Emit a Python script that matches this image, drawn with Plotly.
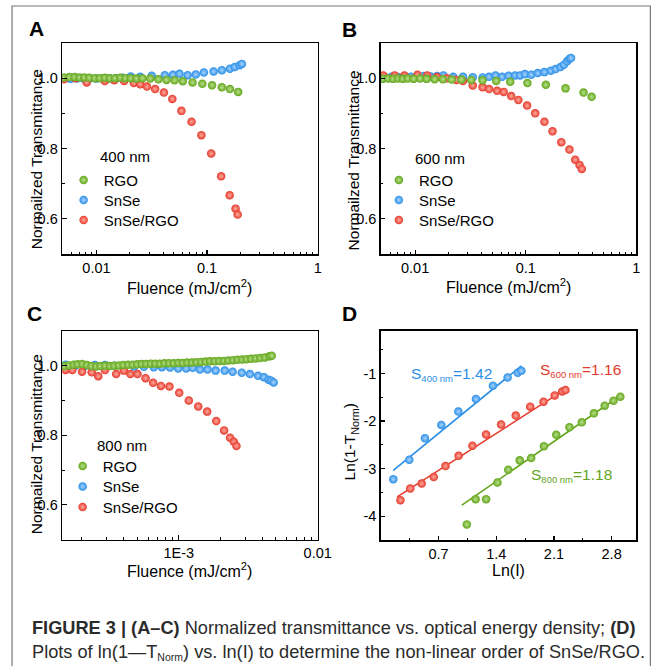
import plotly.graph_objects as go

W, H = 667, 666
FONT = "Arial, Liberation Sans, Helvetica, sans-serif"

GREEN = "#62a51c"
BLUE = "#2a8ee6"
RED = "#e4392b"
GREEN_HI = "#b9e08a"
BLUE_HI = "#a9d4ff"
RED_HI = "#ffab9f"

# ---------------- Panel A : 400 nm ----------------
a_rgo_x = [0.00508, 0.0057, 0.00635, 0.00703, 0.00778, 0.00863, 0.00968, 0.0107, 0.0119, 0.0132,
           0.0147, 0.0164, 0.0183, 0.0204, 0.023, 0.026, 0.0306, 0.0363, 0.043, 0.0508,
           0.0603, 0.0739, 0.0906, 0.111, 0.136, 0.161, 0.191]
a_rgo_y = [1.002, 1.003, 1.003, 1.002, 1.002, 1.001, 1.0, 1.0, 1.001, 1.0,
           1.0, 1.001, 1.0, 1.0, 0.999, 1.0, 0.999, 0.997, 0.995, 0.994,
           0.991, 0.988, 0.984, 0.98, 0.974, 0.969, 0.961]
a_snse_x = [0.00508, 0.00582, 0.00667, 0.00764, 0.00875, 0.01, 0.0115, 0.0131, 0.015, 0.0172,
            0.0204, 0.0249, 0.0316, 0.0415, 0.0492, 0.0563, 0.0667, 0.079, 0.0935, 0.1146,
            0.136, 0.161, 0.178, 0.197, 0.2065]
a_snse_y = [0.999, 0.998, 0.999, 0.999, 1.0, 0.999, 0.999, 1.0, 1.0, 1.001,
            1.0047, 1.0038, 1.0066, 1.0085, 1.0094, 1.0123, 1.0085, 1.0104, 1.016, 1.019,
            1.0226, 1.027, 1.032, 1.037, 1.0405]
a_comp_x = [0.00508, 0.00644, 0.00816, 0.0119, 0.0145, 0.0178, 0.0218, 0.0249, 0.0286, 0.0339,
            0.0407, 0.0485, 0.0586, 0.0724, 0.0888, 0.109, 0.134, 0.16, 0.181, 0.189]
a_comp_y = [0.997, 1.0, 0.988, 0.992, 0.994, 0.992, 0.986, 0.983, 0.976, 0.969,
            0.959, 0.941, 0.907, 0.876, 0.838, 0.786, 0.721, 0.667, 0.629, 0.612]

# ---------------- Panel B : 600 nm ----------------
b_rgo_x = [0.00508, 0.0057, 0.00632, 0.007, 0.00775, 0.00857, 0.00968, 0.0111, 0.0127, 0.015,
           0.0178, 0.0214, 0.0262, 0.0321, 0.0407, 0.0541, 0.0724, 0.1035, 0.152, 0.229,
           0.333, 0.394]
b_rgo_y = [0.998, 0.999, 0.998, 0.999, 0.998, 0.999, 0.998, 0.999, 0.998, 0.997,
           0.997, 0.996, 0.996, 0.995, 0.994, 0.992, 0.99, 0.986, 0.981, 0.971,
           0.959, 0.947]
b_snse_x = [0.00532, 0.00611, 0.007, 0.008, 0.00916, 0.0105, 0.012, 0.0138, 0.0158, 0.018,
            0.0221, 0.0271, 0.0332, 0.0407, 0.0466, 0.0533, 0.0611, 0.07, 0.0802, 0.0888,
            0.0982, 0.1123, 0.1285, 0.1475, 0.1687, 0.1866, 0.2065, 0.2213, 0.2366, 0.2478,
            0.2568]
b_snse_y = [1.003, 1.004, 1.003, 1.005, 1.004, 1.005, 1.006, 1.005, 1.006, 1.0077,
            1.0038, 1.0038, 1.0029, 1.0019, 1.0038, 1.0077, 1.0038, 1.0067, 1.0077, 1.0077,
            1.0115, 1.0096, 1.0144, 1.0172, 1.0211, 1.0258, 1.0316, 1.0383, 1.0478, 1.0545,
            1.0574]
b_comp_x = [0.00515, 0.00653, 0.008, 0.0105, 0.01285, 0.01577, 0.01932, 0.02367, 0.02704, 0.0332,
            0.0407, 0.0466, 0.0551, 0.0632, 0.0739, 0.0858, 0.1028, 0.1218, 0.1475, 0.1746,
            0.2096, 0.2483, 0.2801, 0.3062, 0.3212]
b_comp_y = [1.0077, 1.0077, 1.0077, 1.0096, 1.0077, 1.003, 1.0, 0.995, 0.992, 0.979,
            0.974, 0.969, 0.964, 0.961, 0.949, 0.938, 0.922, 0.9, 0.876, 0.849,
            0.818, 0.797, 0.768, 0.753, 0.742]

# ---------------- Panel C : 800 nm ----------------
c_rgo_x = [1.50e-4, 1.62e-4, 1.75e-4, 1.87e-4, 2.02e-4, 2.18e-4, 2.35e-4, 2.54e-4, 2.73e-4, 2.95e-4,
           3.19e-4, 3.43e-4, 3.70e-4, 3.99e-4, 4.31e-4, 4.65e-4, 5.01e-4, 5.40e-4, 5.82e-4, 6.29e-4,
           6.78e-4, 7.31e-4, 7.89e-4, 8.51e-4, 9.18e-4, 9.90e-4, 1.067e-3, 1.151e-3, 1.242e-3, 1.340e-3,
           1.446e-3, 1.559e-3, 1.680e-3, 1.812e-3, 1.956e-3, 2.110e-3, 2.275e-3, 2.455e-3, 2.648e-3, 2.856e-3,
           3.081e-3, 3.322e-3, 3.583e-3, 3.865e-3, 4.169e-3, 4.498e-3, 4.67e-3]
c_rgo_y = [0.999, 1.001, 1.003, 1.004, 1.005, 1.002, 0.999, 0.998, 0.999, 1.0,
           0.999, 1.0, 1.001, 1.002, 1.003, 1.003, 1.004, 1.005, 1.005, 1.006,
           1.006, 1.006, 1.007, 1.007, 1.007, 1.008, 1.008, 1.009, 1.009, 1.01,
           1.011, 1.012, 1.013, 1.013, 1.014, 1.014, 1.015, 1.016, 1.017, 1.018,
           1.019, 1.02, 1.021, 1.022, 1.024, 1.027, 1.029]
c_snse_x = [1.53e-4, 1.80e-4, 2.12e-4, 2.49e-4, 2.94e-4, 3.45e-4, 4.06e-4, 4.77e-4, 5.61e-4, 6.60e-4,
            7.55e-4, 8.64e-4, 9.9e-4, 1.13e-3, 1.26e-3, 1.42e-3, 1.61e-3, 1.84e-3, 2.14e-3, 2.44e-3,
            2.84e-3, 3.25e-3, 3.72e-3, 4.10e-3, 4.43e-3, 4.62e-3, 4.82e-3]
c_snse_y = [1.003, 1.0, 1.0, 1.002, 1.002, 1.0, 1.0, 0.998, 0.997, 0.996,
            0.996, 0.995, 0.992, 0.992, 0.994, 0.989, 0.989, 0.986, 0.986, 0.983,
            0.98, 0.976, 0.971, 0.967, 0.96, 0.957, 0.952]
c_comp_x = [1.53e-4, 1.71e-4, 2.01e-4, 2.36e-4, 2.63e-4, 2.94e-4, 3.54e-4, 4.02e-4, 4.48e-4, 5.04e-4,
            5.76e-4, 6.53e-4, 7.43e-4, 8.56e-4, 1.007e-3, 1.18e-3, 1.38e-3, 1.60e-3, 1.86e-3, 2.12e-3,
            2.34e-3, 2.49e-3, 2.60e-3]
c_comp_y = [0.988, 0.988, 0.983, 0.981, 0.97, 0.988, 0.976, 0.986, 0.976, 0.976,
            0.964, 0.951, 0.942, 0.94, 0.922, 0.9, 0.883, 0.868, 0.841, 0.814,
            0.793, 0.781, 0.769]

# ---------------- Panel D : ln(1-T) vs ln(I) ----------------
d400_x = [0.151, 0.345, 0.535, 0.734, 0.94, 1.154, 1.36, 1.538, 1.661, 1.705]
d400_y = [-3.224, -2.812, -2.36, -2.08, -1.801, -1.536, -1.257, -1.083, -0.985, -0.944]
d600_x = [0.238, 0.357, 0.496, 0.642, 0.785, 0.944, 1.111, 1.277, 1.459, 1.637, 1.812, 1.974, 2.109, 2.2, 2.24]
d600_y = [-3.663, -3.418, -3.314, -3.176, -2.946, -2.729, -2.519, -2.282, -2.073, -1.885, -1.697, -1.592,
          -1.46, -1.377, -1.347]
d800_x = [1.043, 1.15, 1.277, 1.415, 1.546, 1.685, 1.824, 1.979, 2.128, 2.288, 2.438, 2.585, 2.716, 2.823, 2.906]
d800_y = [-4.172, -3.642, -3.642, -3.293, -3.021, -2.826, -2.778, -2.527, -2.289, -2.13, -2.025, -1.837,
          -1.676, -1.571, -1.487]
fit400_x = [0.151, 1.705]
fit400_y = [-3.035, -0.839]
fit600_x = [0.198, 2.259]
fit600_y = [-3.594, -1.306]
fit800_x = [0.983, 2.933]
fit800_y = [-3.768, -1.431]
slopes = ["1.42", "1.16", "1.18"]

series_names = ["RGO", "SnSe", "SnSe/RGO"]
wavelengths = ["400 nm", "600 nm", "800 nm"]


def fx(px):
    return px / W


def fy(py):
    return 1 - py / H


fig = go.Figure()

MS = 8.5


def mk(color, hi):
    return dict(size=MS, color=color, line=dict(width=0),
                gradient=dict(type="radial", color=hi))


# legend placement per panel: (left px, row centre px list)
leg_pos = {
    "A": (65, [180, 200, 220]),
    "B": (387, [180, 200, 220]),
    "C": (64, [466, 486.5, 507]),
}
LEG_OFF = 16.25  # distance from legend top to first item centre for a 15px font

panels = [
    ("A", "x", "y", a_rgo_x, a_rgo_y, a_snse_x, a_snse_y, a_comp_x, a_comp_y),
    ("B", "x2", "y2", b_rgo_x, b_rgo_y, b_snse_x, b_snse_y, b_comp_x, b_comp_y),
    ("C", "x3", "y3", c_rgo_x, c_rgo_y, c_snse_x, c_snse_y, c_comp_x, c_comp_y),
]
legend_layouts = {}
leg_base = dict(bgcolor="rgba(0,0,0,0)", borderwidth=0, xanchor="left", yanchor="top",
                font=dict(family=FONT, size=15, color="black"))
li = 0
for key, xa, ya, gx, gy, bx, by, rx, ry in panels:
    left, rows = leg_pos[key]
    names = []
    for j in range(3):
        li += 1
        nm = "legend" if li == 1 else "legend%d" % li
        names.append(nm)
        legend_layouts[nm] = dict(leg_base, x=fx(left), y=fy(rows[j] - LEG_OFF))
    fig.add_trace(go.Scatter(x=bx, y=by, mode="markers", name=series_names[1], xaxis=xa, yaxis=ya,
                             legend=names[1], marker=mk(BLUE, BLUE_HI)))
    fig.add_trace(go.Scatter(x=rx, y=ry, mode="markers", name=series_names[2], xaxis=xa, yaxis=ya,
                             legend=names[2], marker=mk(RED, RED_HI)))
    fig.add_trace(go.Scatter(x=gx, y=gy, mode="markers", name=series_names[0], xaxis=xa, yaxis=ya,
                             legend=names[0], marker=mk(GREEN, GREEN_HI)))

# panel D
for lx, ly, px_, py_, col, hi in [
    (fit400_x, fit400_y, d400_x, d400_y, BLUE, BLUE_HI),
    (fit600_x, fit600_y, d600_x, d600_y, RED, RED_HI),
    (fit800_x, fit800_y, d800_x, d800_y, GREEN, GREEN_HI),
]:
    fig.add_trace(go.Scatter(x=lx, y=ly, mode="lines", line=dict(color=col, width=1.6),
                             xaxis="x4", yaxis="y4", showlegend=False))
    fig.add_trace(go.Scatter(x=px_, y=py_, mode="markers", marker=mk(col, hi),
                             xaxis="x4", yaxis="y4", showlegend=False))

# ---------------- axes ----------------
boxes = {
    "A": (63.5, 324.5, 43, 254),
    "B": (389, 650, 43, 254),
    "C": (63.5, 324.5, 331, 539.5),
    "D": (389, 650, 330.7, 540),
}


def dom(b):
    x0, x1, y0, y1 = b
    return [fx(x0), fx(x1)], [fy(y1), fy(y0)]


base = dict(showline=True, linecolor="black", linewidth=1.5, mirror=True, ticks="inside",
            ticklen=4.5, tickwidth=1.2, tickcolor="black", showgrid=False, zeroline=False,
            tickfont=dict(family=FONT, size=14.5, color="black"))
minor_base = dict(ticks="inside", ticklen=2.5, tickwidth=1, tickcolor="black", showgrid=False)

minor_ab = [m * 10 ** e for e in (-3, -2, -1) for m in range(2, 10) if m * 10 ** e > 0.0052]
minor_c = [m * 10 ** e for e in (-4, -3) for m in range(2, 10)]
minor_dx = [0.35, 1.05, 1.75, 2.45]
minor_dy = [-0.5, -1.5, -2.5, -3.5]

layout_axes = {}
for key, xa, ya in [("A", "xaxis", "yaxis"), ("B", "xaxis2", "yaxis2"), ("C", "xaxis3", "yaxis3")]:
    xd, yd = dom(boxes[key])
    ax_anchor = {"A": "y", "B": "y2", "C": "y3"}[key]
    ay_anchor = {"A": "x", "B": "x2", "C": "x3"}[key]
    if key == "C":
        xr = [-3.84, -2.0]
        tv, tt, mv = [1e-3, 1e-2], ["1E-3", "0.01"], minor_c
    else:
        xr = [-2.31, 0.0]
        tv, tt, mv = [0.01, 0.1, 1], ["0.01", "0.1", "1"], minor_ab
    layout_axes[xa] = dict(base, type="log", domain=xd, anchor=ax_anchor, range=xr,
                           tickmode="array", tickvals=tv, ticktext=tt,
                           minor=dict(minor_base, tickmode="array", tickvals=mv))
    layout_axes[ya] = dict(base, domain=yd, anchor=ay_anchor, range=[0.5, 1.1],
                           tickmode="array", tickvals=[0.6, 0.8, 1.0], ticktext=["0.6", "0.8", "1.0"],
                           minor=dict(minor_base, tickmode="array", tickvals=[0.5, 0.7, 0.9, 1.1]))

xd, yd = dom(boxes["D"])
layout_axes["xaxis4"] = dict(base, domain=xd, anchor="y4", range=[0, 3.1], tickmode="array",
                             tickvals=[0.7, 1.4, 2.1, 2.8], ticktext=["0.7", "1.4", "2.1", "2.8"],
                             minor=dict(minor_base, tickmode="array", tickvals=minor_dx))
layout_axes["yaxis4"] = dict(base, domain=yd, anchor="x4", range=[-4.5, -0.1], tickmode="array",
                             tickvals=[-4, -3, -2, -1], ticktext=["-4", "-3", "-2", "-1"],
                             minor=dict(minor_base, tickmode="array", tickvals=minor_dy))

# ---------------- annotations ----------------
ann = []


def text(x, y, s, size, color="black", xanchor="center", yanchor="middle", angle=0, bold=False):
    ann.append(dict(x=fx(x), y=fy(y), xref="paper", yref="paper", text=("<b>%s</b>" % s) if bold else s,
                    showarrow=False, xanchor=xanchor, yanchor=yanchor, textangle=angle,
                    font=dict(family=FONT, size=size, color=color)))


# panel letters
text(37.5, 29, "A", 21, bold=True)
text(357.5, 30, "B", 21, bold=True)
text(35.5, 314, "C", 21, bold=True)
text(357.5, 314, "D", 21, bold=True)

# y titles
text(37, 159, "Normailzed Transmittance", 15.5, angle=-90)
text(361, 160, "Normailzed Transmittance", 15.5, angle=-90)
text(37, 444, "Normailzed Transmittance", 15.5, angle=-90)
text(358, 442, "Ln(1-T<sub>Norm</sub>)", 15.5, angle=-90)

# x titles
text(194, 287, "Fluence (mJ/cm<sup>2</sup>)", 16)
text(519.5, 286, "Fluence (mJ/cm<sup>2</sup>)", 16)
text(194, 570, "Fluence (mJ/cm<sup>2</sup>)", 16)
text(519.5, 570, "Ln(I)", 16)

# wavelength labels for legends
text(100, 157, wavelengths[0], 15, xanchor="left")
text(421.7, 158, wavelengths[1], 15, xanchor="left")
text(96.7, 445, wavelengths[2], 15, xanchor="left")


def slope_label(wl, s):
    return "S<sub><span style='font-size:9.5px'>%s</span></sub>=%s" % (wl, s)


# slope labels
text(418, 374, slope_label(wavelengths[0], slopes[0]), 15.5, color=BLUE, xanchor="left")
text(550, 370, slope_label(wavelengths[1], slopes[1]), 15.5, color=RED, xanchor="left")
text(540, 475, slope_label(wavelengths[2], slopes[2]), 15.5, color=GREEN, xanchor="left")

# caption
ann.append(dict(x=fx(31), y=fy(616), xref="paper", yref="paper", xanchor="left", yanchor="top",
                align="left", showarrow=False,
                text="<b>FIGURE 3 | (A–C)</b> Normalized transmittance vs. optical energy density; <b>(D)</b>"
                     "<br>Plots of ln(1—T<sub><span style='font-size:10.5px'>Norm</span></sub>) vs. ln(I) "
                     "to determine the non-linear order of SnSe/RGO.",
                font=dict(family=FONT, size=18.2, color="#2b2b2b")))

fig.update_layout(
    width=W, height=H, margin=dict(l=0, r=0, t=0, b=0),
    paper_bgcolor="white", plot_bgcolor="white",
    showlegend=True,
    annotations=ann,
    shapes=[dict(type="rect", xref="paper", yref="paper", x0=fx(12.3), x1=fx(664.3),
                 y0=-0.02, y1=fy(6), line=dict(color="#777777", width=1.2))],
    **legend_layouts,
    **layout_axes,
)

fig.write_html("out.html", config={"displayModeBar": False, "staticPlot": True},
               post_script="document.body.style.margin='0';document.body.style.padding='0';")
